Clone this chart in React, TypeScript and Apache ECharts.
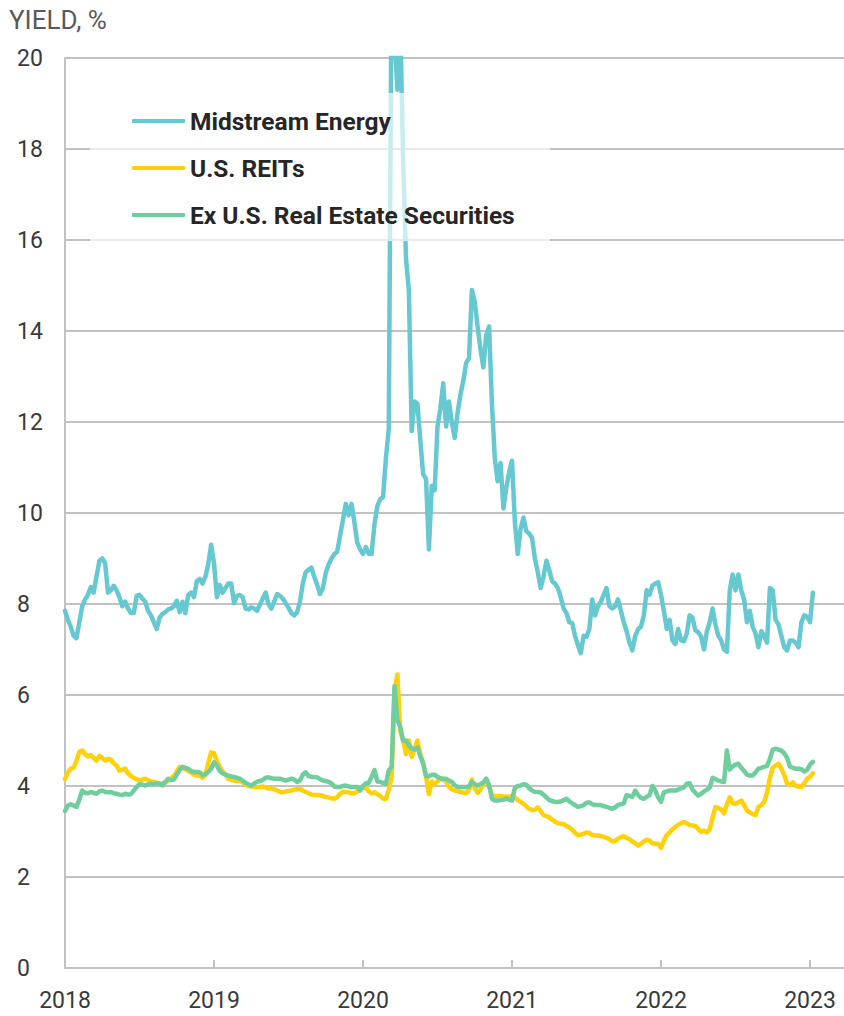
import React, { useEffect, useRef } from 'react';
import * as echarts from 'echarts';

const seriesNames = ['Midstream Energy', 'U.S. REITs', 'Ex U.S. Real Estate Securities'];
const seriesColors = ['#66c8d0', '#ffd10a', '#6fcd9e'];
const yearLabels = [2018, 2019, 2020, 2021, 2022, 2023];
const firstYear = 2018;
const weeksPerYear = 52;

// weekly yields, %, starting first week of January 2018
const midstream = [
  7.85, 7.65, 7.5, 7.3, 7.25, 7.6, 7.95, 8.1, 8.2, 8.37,
  8.25, 8.6, 8.95, 9.0, 8.9, 8.25, 8.3, 8.4, 8.3, 8.15,
  7.95, 8.05, 7.9, 7.8, 7.8, 8.18, 8.2, 8.12, 8.05, 7.85,
  7.75, 7.6, 7.45, 7.7, 7.78, 7.82, 7.88, 7.9, 7.95, 8.07,
  7.82, 8.05, 7.8, 8.2, 8.25, 8.15, 8.5, 8.55, 8.45, 8.6,
  8.88, 9.3, 8.9, 8.15, 8.42, 8.25, 8.35, 8.45, 8.45, 8.02,
  8.18, 8.2, 8.15, 7.9, 7.88, 7.93, 7.9, 7.85, 7.98, 8.12,
  8.25, 8.0, 7.9, 8.05, 8.22, 8.18, 8.12, 8.02, 7.92, 7.8,
  7.75, 7.82, 8.05, 8.45, 8.7, 8.75, 8.8, 8.6, 8.42, 8.22,
  8.35, 8.68, 8.87, 9.0, 9.1, 9.15, 9.5, 9.85, 10.2, 9.95,
  10.2, 9.8, 9.35, 9.2, 9.1, 9.25, 9.1, 9.1, 9.75, 10.15,
  10.3, 10.35, 11.2, 11.85, 22, 20.5, 19.3, 20.8, 17.8, 15.6,
  14.9, 11.8, 12.45, 12.4, 11.6, 10.85, 10.75, 9.2, 10.6, 10.5,
  11.9, 12.3, 12.85, 11.9, 12.45, 12.0, 11.65, 12.2, 12.6, 12.9,
  13.3, 13.4, 14.9, 14.65, 14.1, 13.6, 13.2, 13.9, 14.1, 12.4,
  11.2, 10.7, 11.1, 10.1, 10.55, 10.9, 11.15, 9.8, 9.1, 9.65,
  9.9, 9.6, 9.55, 9.45, 9.0, 8.7, 8.35, 8.6, 8.95, 8.75,
  8.5, 8.45, 8.35, 8.15, 7.9, 7.8, 7.6, 7.58, 7.3, 7.1,
  6.92, 7.3, 7.28, 7.45, 8.1, 7.75, 7.95, 8.05, 8.2, 8.35,
  7.95, 7.9, 7.95, 8.1, 7.85, 7.6, 7.4, 7.15, 6.98, 7.3,
  7.45, 7.5, 7.75, 8.3, 8.2, 8.4, 8.45, 8.48, 8.2, 7.85,
  7.45, 7.65, 7.2, 7.12, 7.45, 7.2, 7.18, 7.35, 7.75, 7.7,
  7.42, 7.38, 7.28, 7.0, 7.4, 7.6, 7.9, 7.55, 7.3, 7.2,
  7.0, 6.95, 8.3, 8.65, 8.3, 8.65, 8.3, 8.1, 7.6, 7.85,
  7.5, 7.35, 7.05, 7.4, 7.3, 7.15, 8.35, 8.3, 7.65, 7.55,
  7.3, 7.05, 6.98, 7.2, 7.2, 7.15, 7.05, 7.6, 7.75, 7.72,
  7.6, 8.25,
];

const usReits = [
  4.15, 4.3, 4.38, 4.4, 4.55, 4.75, 4.78, 4.7, 4.65, 4.68,
  4.62, 4.56, 4.66, 4.62, 4.56, 4.6, 4.58, 4.5, 4.45, 4.34,
  4.36, 4.38, 4.28, 4.22, 4.18, 4.15, 4.12, 4.14, 4.16, 4.13,
  4.1, 4.09, 4.07, 4.05, 4.06, 4.09, 4.12, 4.16, 4.22, 4.32,
  4.42, 4.4, 4.37, 4.33, 4.3, 4.25, 4.23, 4.23, 4.18, 4.25,
  4.5, 4.74, 4.72, 4.55, 4.42, 4.32, 4.25, 4.16, 4.13, 4.12,
  4.11, 4.12, 4.08, 4.03, 4.0, 3.99, 3.98, 3.97, 3.98, 3.99,
  3.97, 3.95, 3.94, 3.93, 3.9, 3.87, 3.86, 3.88, 3.89, 3.9,
  3.92, 3.93, 3.94, 3.9, 3.87, 3.84, 3.81, 3.8, 3.8, 3.8,
  3.78, 3.76, 3.75, 3.73, 3.72, 3.76, 3.83, 3.87, 3.87, 3.86,
  3.84, 3.84, 3.88, 3.95, 3.96, 3.97, 3.88, 3.84, 3.86, 3.82,
  3.78, 3.72, 3.72, 3.92, 4.2, 6.1, 6.45, 5.2, 5.0, 4.7,
  5.0, 4.64, 4.82, 5.0, 4.7, 4.5, 4.2, 3.82, 4.1, 4.05,
  4.1, 4.16, 4.13, 4.1, 3.98, 3.93, 3.9, 3.89, 3.87, 3.85,
  3.84, 3.92, 4.14, 3.95, 3.85, 3.92, 4.05, 4.15, 4.0, 3.8,
  3.77, 3.78, 3.78, 3.76, 3.77, 3.76, 3.78, 3.75, 3.69, 3.65,
  3.61, 3.55, 3.5, 3.47, 3.48, 3.53, 3.45, 3.36, 3.34, 3.31,
  3.26, 3.22, 3.18, 3.17, 3.16, 3.12, 3.09, 3.04, 2.97, 2.92,
  2.93, 2.95, 2.98, 2.97, 2.92, 2.91, 2.91, 2.9, 2.88, 2.86,
  2.83, 2.78, 2.79, 2.84, 2.88, 2.9, 2.86, 2.83, 2.78, 2.74,
  2.69, 2.73, 2.78, 2.82, 2.8, 2.74, 2.73, 2.73, 2.64, 2.8,
  2.92, 2.98, 3.05, 3.1, 3.15, 3.18, 3.21, 3.18, 3.14, 3.13,
  3.12, 3.05, 2.99, 3.02, 2.98, 3.05, 3.3, 3.54, 3.52, 3.48,
  3.4, 3.6, 3.75, 3.62, 3.61, 3.64, 3.68, 3.58, 3.46, 3.42,
  3.38, 3.36, 3.54, 3.58, 3.65, 3.85, 4.18, 4.4, 4.45, 4.49,
  4.38, 4.24, 4.05, 4.02, 4.08, 4.0, 3.99, 3.98, 4.06, 4.16,
  4.2, 4.28,
];

const exUsRealEstate = [
  3.45, 3.57, 3.6, 3.57, 3.54, 3.7, 3.9, 3.85, 3.84, 3.87,
  3.85, 3.83, 3.88, 3.9, 3.87, 3.86, 3.87, 3.84, 3.83, 3.81,
  3.8, 3.83, 3.81, 3.82, 3.9, 3.98, 4.04, 4.03, 4.01, 4.04,
  4.05, 4.04, 4.06, 4.05, 4.01, 4.08, 4.16, 4.13, 4.14, 4.25,
  4.35, 4.42, 4.4, 4.38, 4.33, 4.31, 4.31, 4.3, 4.24, 4.26,
  4.31, 4.38, 4.52, 4.45, 4.33, 4.28, 4.25, 4.23, 4.21, 4.2,
  4.18, 4.16, 4.12, 4.07, 4.04, 4.01, 4.05, 4.09, 4.11, 4.13,
  4.18, 4.19, 4.17, 4.16, 4.16, 4.16, 4.14, 4.12, 4.14, 4.16,
  4.14, 4.09, 4.12, 4.25, 4.3, 4.22, 4.2, 4.2, 4.19, 4.15,
  4.12, 4.11, 4.09, 4.06, 3.99, 3.98, 3.98, 4.0, 4.01, 3.99,
  3.98, 3.98, 3.98, 3.9, 4.0, 4.06, 4.07, 4.2, 4.35, 4.1,
  4.09, 4.07, 4.05, 4.34, 4.42, 6.2, 5.45, 5.3, 5.0, 5.0,
  4.9, 4.82, 4.8, 4.85, 4.65, 4.5, 4.22, 4.21, 4.25, 4.25,
  4.2, 4.17, 4.16, 4.16, 4.12, 4.09, 4.02, 3.98, 3.98, 3.98,
  3.98, 3.99, 4.09, 4.04, 4.01, 4.04, 4.08, 4.16, 4.02, 3.72,
  3.68, 3.68, 3.69, 3.7, 3.72, 3.7, 3.68, 3.96, 4.0, 4.01,
  4.04, 4.03, 3.95, 3.9, 3.87, 3.87, 3.86, 3.81, 3.75, 3.69,
  3.67, 3.65, 3.65, 3.66, 3.69, 3.72, 3.66, 3.62, 3.58, 3.54,
  3.56, 3.58, 3.63, 3.64, 3.6, 3.58, 3.58, 3.58, 3.56, 3.54,
  3.52, 3.5, 3.53, 3.58, 3.6, 3.62, 3.8, 3.78, 3.76, 3.9,
  3.8, 3.74, 3.72, 3.76, 3.8, 4.0, 3.9, 3.75, 3.65, 3.86,
  3.88, 3.9, 3.9, 3.9, 3.92, 3.95, 3.97, 4.05, 4.06, 3.92,
  3.85, 3.79, 3.83, 3.88, 3.92, 3.97, 4.18, 4.15, 4.12, 4.1,
  4.09, 4.78, 4.36, 4.43, 4.47, 4.49, 4.4, 4.33, 4.25, 4.23,
  4.23, 4.3, 4.38, 4.4, 4.42, 4.44, 4.6, 4.8, 4.82, 4.8,
  4.78, 4.72, 4.62, 4.43, 4.4, 4.38, 4.38, 4.37, 4.32, 4.35,
  4.47, 4.53,
];

const allSeries = [midstream, usReits, exUsRealEstate];

const font = "Roboto, 'Liberation Sans', sans-serif";

const toPairs = (vals: number[]) => vals.map((v, i) => [firstYear + i / weeksPerYear, v]);

export default function App() {
  const ref = useRef<HTMLDivElement>(null);

  useEffect(() => {
    if (!ref.current) return;
    const chart = echarts.init(ref.current, null, { renderer: 'svg' });
    const gridColor = '#c2c2c2';
    const option: any = {
      animation: false,
      backgroundColor: '#ffffff',
      title: {
        text: 'YIELD, %',
        left: 9,
        top: 7,
        padding: 0,
        textStyle: { fontFamily: font, fontSize: 26, fontWeight: 'normal', color: '#595959' },
      },
      grid: { left: 65, right: 0, top: 58, bottom: 48, containLabel: false },
      legend: {
        orient: 'vertical',
        left: 132,
        top: 108,
        padding: 0,
        icon: 'roundRect',
        itemWidth: 53,
        itemHeight: 4,
        itemGap: 21,
        data: seriesNames,
        textStyle: {
          fontFamily: font,
          fontSize: 24.5,
          lineHeight: 26,
          fontWeight: 'bold',
          color: '#262626',
        },
        z: 20,
      },
      graphic: [
        {
          type: 'rect',
          z: 10,
          shape: { x: 90, y: 93, width: 460, height: 148 },
          style: { fill: 'rgba(255,255,255,0.65)' },
        },
      ],
      xAxis: {
        type: 'value',
        min: firstYear,
        max: firstYear + 779 / 149,
        axisLine: { show: true, lineStyle: { color: gridColor, width: 2 } },
        axisTick: {
          show: true,
          inside: true,
          length: 8,
          customValues: yearLabels.slice(1),
          lineStyle: { color: gridColor, width: 2 },
        },
        axisLabel: {
          customValues: yearLabels,
          formatter: (v: number) => String(Math.round(v)),
          fontFamily: font,
          fontSize: 23,
          color: '#3a3a3a',
          margin: 21,
        },
        splitLine: { show: false },
      },
      yAxis: {
        type: 'value',
        min: 0,
        max: 20,
        interval: 2,
        axisLine: { show: true, lineStyle: { color: gridColor, width: 2 } },
        axisTick: { show: false },
        splitLine: { show: true, lineStyle: { color: gridColor, width: 2 } },
        axisLabel: {
          align: 'left',
          margin: 48,
          fontFamily: font,
          fontSize: 23,
          color: '#3a3a3a',
        },
      },
      series: allSeries.map((vals, k) => ({
        name: seriesNames[k],
        type: 'line',
        data: toPairs(vals),
        symbol: 'none',
        showSymbol: false,
        clip: true,
        color: seriesColors[k],
        lineStyle: { width: 4.5, color: seriesColors[k], cap: 'round', join: 'round' },
        z: 2 + k,
      })),
    };
    chart.setOption(option);
    return () => chart.dispose();
  }, []);

  return (
    <div
      ref={ref}
      style={{ position: 'absolute', left: 0, top: 0, width: 844, height: 1016 }}
    />
  );
}
